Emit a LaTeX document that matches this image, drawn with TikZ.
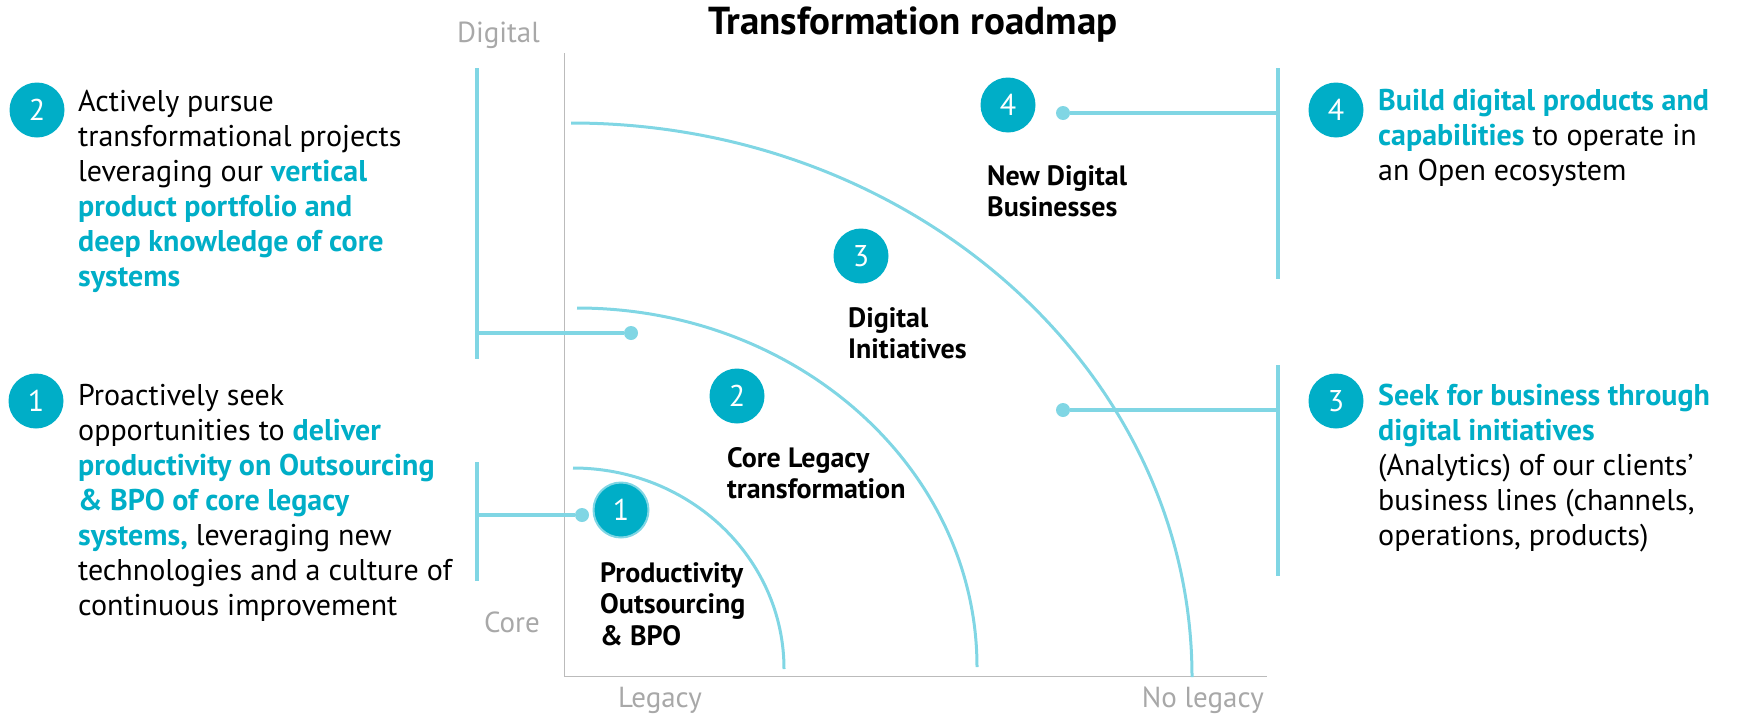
\documentclass[tikz,border=0pt]{standalone}
\usepackage{fontspec}
\setmainfont{PT Sans}
\usepackage{xcolor}
\usepackage{tikz}

\definecolor{roadteal}{HTML}{00AEC7}
\definecolor{linkcyan}{HTML}{80D6E4}
\definecolor{axisgray}{HTML}{BBBBBB}
\definecolor{labelgray}{HTML}{A8A8A8}
\newcommand{\hilite}[1]{\textcolor{roadteal}{\bfseries #1}}

\begin{document}
\begin{tikzpicture}[x=1pt, y=-1pt,
  num/.style={circle, fill=roadteal, text=white, minimum size=55pt, inner sep=0pt, font=\fontsize{30}{30}\selectfont},
  dotnode/.style={circle, fill=linkcyan, minimum size=14pt, inner sep=0pt},
  linkline/.style={draw=linkcyan, line width=3.5pt},
  band/.style={draw=linkcyan, line width=3pt},
  body/.style={anchor=north west, inner sep=0pt, align=left, font=\fontsize{30}{35}\selectfont},
  stage/.style={anchor=north west, inner sep=0pt, align=left, font=\fontsize{28}{31.5}\selectfont\bfseries},
  axlabel/.style={text=labelgray, inner sep=0pt, font=\fontsize{29}{29}\selectfont}]
  \useasboundingbox (0,0) rectangle (1750,715);

  % title
  \node[font=\fontsize{39}{39}\selectfont\bfseries, anchor=base] (title) at (913,34) {Transformation roadmap};

  % axes
  \coordinate (ytop) at (564,53);
  \coordinate (origin) at (564,676);
  \coordinate (xend) at (1267,676);
  \draw[axisgray, line width=1pt] (ytop) -- (origin) -- (xend);
  \node[axlabel, anchor=base east] (ydigital) at (540,42) {Digital};
  \node[axlabel, anchor=base east] (ycore) at (540,632) {Core};
  \node[axlabel, anchor=base] (xlegacy) at (660,707) {Legacy};
  \node[axlabel, anchor=base east] (xnolegacy) at (1264,707) {No legacy};

  % the three bands
  \draw[band] (573,468) arc[start angle=90, end angle=0, x radius=211pt, y radius=201pt];
  \draw[band] (577,308) arc[start angle=90, end angle=0, x radius=400pt, y radius=359pt];
  \draw[band] (571,123) arc[start angle=90, end angle=0, x radius=621pt, y radius=554pt];

  % stages inside the chart
  \node[num] (s4) at (1008,105) {4};
  \node[stage] (s4txt) at (987,165) {New Digital\\Businesses};
  \node[num] (s3) at (861,256) {3};
  \node[stage] (s3txt) at (848,307) {Digital\\Initiatives};
  \node[num] (s2) at (737,396) {2};
  \node[stage] (s2txt) at (727,447) {Core Legacy\\transformation};
  \node[num, draw=linkcyan, line width=2pt] (s1) at (621,510) {1};
  \node[stage] (s1txt) at (600,562) {Productivity\\Outsourcing\\\& BPO};

  % link dots
  \node[dotnode] (d2) at (631,333) {};
  \node[dotnode] (d1) at (582,515) {};
  \node[dotnode] (d4) at (1063,113) {};
  \node[dotnode] (d3) at (1063,410) {};

  % brackets
  \coordinate (l2top) at (477,68);
  \coordinate (l2bot) at (477,359);
  \coordinate (l2mid) at (477,333);
  \coordinate (l1top) at (477,462);
  \coordinate (l1bot) at (477,581);
  \coordinate (l1mid) at (477,515);
  \coordinate (r4top) at (1278,68);
  \coordinate (r4bot) at (1278,279);
  \coordinate (r4mid) at (1278,113);
  \coordinate (r3top) at (1278,365);
  \coordinate (r3bot) at (1278,576);
  \coordinate (r3mid) at (1278,410);
  \draw[linkline] (l2top) -- (l2bot);
  \draw[linkline] (l2mid) -- (d2);
  \draw[linkline] (l1top) -- (l1bot);
  \draw[linkline] (l1mid) -- (d1);
  \draw[linkline] (r4top) -- (r4bot);
  \draw[linkline] (d4) -- (r4mid);
  \draw[linkline] (r3top) -- (r3bot);
  \draw[linkline] (d3) -- (r3mid);

  % left side
  \node[num] (p2) at (37,110) {2};
  \node[body] (p2txt) at (78,90) {Actively pursue\\transformational projects\\leveraging our \hilite{vertical}\\\hilite{product portfolio and}\\\hilite{deep knowledge of core}\\\hilite{systems}};
  \node[num] (p1) at (36,401) {1};
  \node[body] (p1txt) at (78,384) {Proactively seek\\opportunities to \hilite{deliver}\\\hilite{productivity on Outsourcing}\\\hilite{\& BPO of core legacy}\\\hilite{systems,} leveraging new\\technologies and a culture of\\continuous improvement};

  % right side
  \node[num] (q4) at (1336,110) {4};
  \node[body] (q4txt) at (1378,89) {\hilite{Build digital products and}\\\hilite{capabilities} to operate in\\an Open ecosystem};
  \node[num] (q3) at (1336,401) {3};
  \node[body] (q3txt) at (1378,384) {\hilite{Seek for business through}\\\hilite{digital initiatives}\\(Analytics) of our clients’\\business lines (channels,\\operations, products)};
\end{tikzpicture}
\end{document}
